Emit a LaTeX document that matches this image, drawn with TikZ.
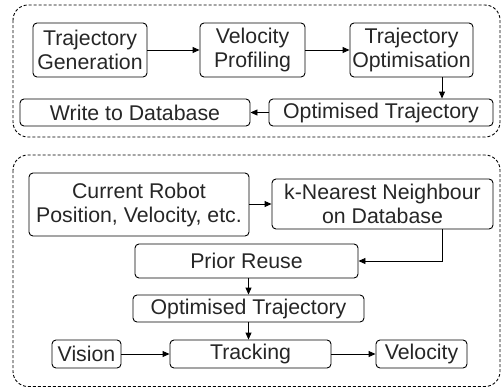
\documentclass[tikz,border=0pt]{standalone}
\usepackage{fontspec}
\setmainfont{Liberation Sans}
\usetikzlibrary{arrows.meta}
\begin{document}
\begin{tikzpicture}[x=1pt,y=-1pt,
  box/.style={draw, rounded corners=4pt, line width=0.9pt, inner sep=0pt, align=center,
    font=\fontsize{21.3}{24}\selectfont, text=black!85},
  group/.style={draw, dashed, dash pattern=on 3pt off 2pt, rounded corners=15pt, line width=0.9pt},
  arr/.style={-{Triangle[length=7pt,width=6pt]}, line width=0.9pt}]
\useasboundingbox (0,0) rectangle (502,388);
\draw[group] (13,5) rectangle (500,137);
\draw[group] (13,155) rectangle (500,386.5);
\node[box, minimum width=114pt, minimum height=54pt] (tg) at (90,50) {Trajectory\\Generation};
\node[box, minimum width=105pt, minimum height=54pt] (vp) at (252.5,50) {Velocity\\Profiling};
\node[box, minimum width=123pt, minimum height=54pt] (to) at (411.5,50) {Trajectory\\Optimisation};
\node[box, minimum width=230pt, minimum height=27pt] (wd) at (135,112.5) {Write to Database};
\node[box, minimum width=224pt, minimum height=27pt] (ot) at (381,112.5) {Optimised Trajectory};
\node[box, minimum width=220pt, minimum height=63pt] (cr) at (139,204.5) {Current Robot\\Position, Velocity, etc.};
\node[box, minimum width=221pt, minimum height=50pt] (kn) at (382.5,204) {k-Nearest Neighbour\\on Database};
\node[box, minimum width=223pt, minimum height=34pt] (pr) at (246.5,261) {Prior Reuse};
\node[box, minimum width=231pt, minimum height=27pt] (ot2) at (248.5,308.5) {Optimised Trajectory};
\node[box, minimum width=161pt, minimum height=28pt] (tr) at (250.5,354) {Tracking};
\node[box, minimum width=69pt, minimum height=28pt] (vi) at (86.5,354) {Vision};
\node[box, minimum width=91pt, minimum height=28pt] (ve) at (421.5,354) {Velocity};
\draw[arr] (tg) -- (vp);
\draw[arr] (vp) -- (to);
\draw[arr] ([xshift=30.5pt]to.south) -- ([xshift=30.5pt]to.south |- ot.north);
\draw[arr] (ot) -- (wd);
\draw[arr] (cr.east |- kn) -- (kn);
\draw[arr] ([xshift=59.5pt]kn.south) |- (pr.east);
\draw[arr] (pr.south -| ot2) -- (ot2);
\draw[arr] (ot2) -- (ot2 |- tr.north);
\draw[arr] (vi) -- (tr);
\draw[arr] (tr) -- (ve);
\end{tikzpicture}
\end{document}
